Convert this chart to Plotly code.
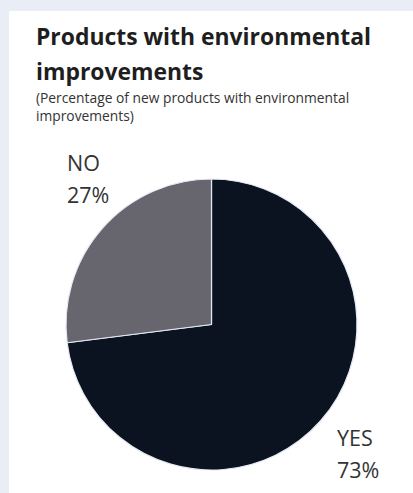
import plotly.graph_objects as go

labels = ["NO", "YES"]
values = [27, 73]
colors = ["#67656e", "#0b1220"]

title_lines = ["Products with environmental", "improvements"]
subtitle_lines = ["(Percentage of new products with environmental", "improvements)"]

W, H = 413, 493

fig = go.Figure()
fig.add_trace(go.Pie(
    labels=labels[::-1], values=values[::-1], sort=False, direction="clockwise",
    rotation=0, textinfo="none", hoverinfo="label+percent",
    marker=dict(colors=colors[::-1], line=dict(color="#e4eaf3", width=1.2)),
    domain=dict(x=[66 / W, 357 / W], y=[1 - 470 / H, 1 - 179 / H]),
    showlegend=False,
))

def py(ypx):
    return 1 - ypx / H

annotations = []
# title
for i, t in enumerate(title_lines):
    annotations.append(dict(text=f"<b>{t}</b>", x=34 / W, y=py(54 + 35 * i), xref="paper", yref="paper",
                            xanchor="left", yanchor="bottom", showarrow=False,
                            font=dict(family="Open Sans", size=22.9, color="#1e1e1e")))
for i, t in enumerate(subtitle_lines):
    annotations.append(dict(text=t, x=34 / W, y=py(109 + 18 * i), xref="paper", yref="paper",
                            xanchor="left", yanchor="bottom", showarrow=False,
                            font=dict(family="Open Sans", size=13.8, color="#333333")))
# slice labels
total = sum(values)
label_pos = {"NO": (65, 179), "YES": (335, 454)}
for lab, v in zip(labels, values):
    x0, y0 = label_pos[lab]
    pct = round(100 * v / total)
    annotations.append(dict(text=lab, x=x0 / W, y=py(y0), xref="paper", yref="paper",
                            xanchor="left", yanchor="bottom", showarrow=False,
                            font=dict(family="Open Sans", size=21.5, color="#333333")))
    annotations.append(dict(text=f"{pct}%", x=x0 / W, y=py(y0 + 32), xref="paper", yref="paper",
                            xanchor="left", yanchor="bottom", showarrow=False,
                            font=dict(family="Open Sans", size=21.5, color="#333333")))

fig.update_layout(
    width=W, height=H,
    margin=dict(l=0, r=0, t=0, b=0),
    paper_bgcolor="#e9eef6",
    plot_bgcolor="#ffffff",
    shapes=[dict(type="rect", xref="paper", yref="paper", x0=9 / W, x1=1, y0=0, y1=py(11),
                 fillcolor="#ffffff", line=dict(width=0), layer="below")],
    annotations=annotations,
)

fig.write_html("out.html", config={"displayModeBar": False},
               post_script="document.body.style.margin='0';document.body.style.background='#e9eef6';")
